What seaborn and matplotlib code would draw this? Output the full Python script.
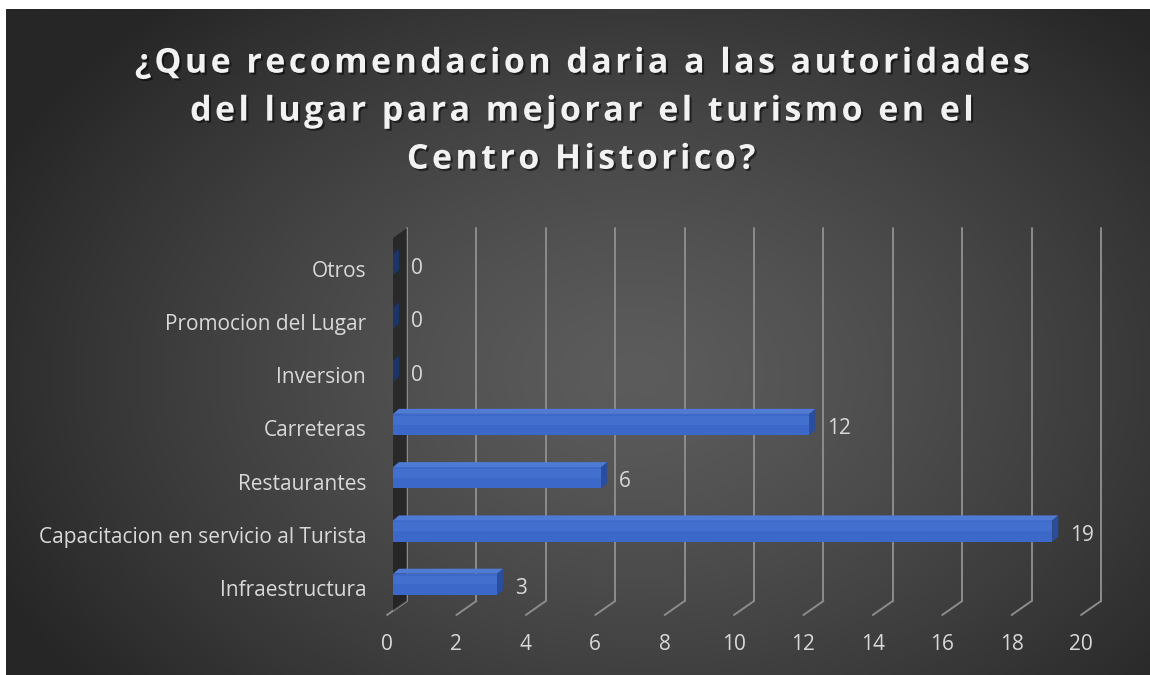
import numpy as np
import matplotlib
matplotlib.use("Agg")
import matplotlib.pyplot as plt
import matplotlib.patheffects as pe
from matplotlib.patches import Polygon
from matplotlib.lines import Line2D
from matplotlib.transforms import offset_copy, IdentityTransform
import seaborn as sns

# data, top row first
categories = ["Otros", "Promocion del Lugar", "Inversion", "Carreteras",
              "Restaurantes", "Capacitacion en servicio al Turista", "Infraestructura"]
values = [0, 0, 0, 12, 6, 19, 3]
x_ticks = list(range(0, 21, 2))
title_lines = ["¿Que recomendacion daria a las autoridades",
               "del lugar para mejorar el turismo en el",
               "Centro Historico?"]

sns.set_theme(style="white")
plt.rcParams["font.family"] = ["Open Sans", "DejaVu Sans"]

W, H, DPI = 1150, 675, 100
fig = plt.figure(figsize=(W / DPI, H / DPI), dpi=DPI)
fig.patch.set_facecolor("white")

# dark radial gradient background (white strip on left/top like the source)
bg = fig.add_axes([6 / W, 0, 1 - 6 / W, 1 - 9 / H])
gx, gy = np.meshgrid(np.linspace(0, 1, 400), np.linspace(0, 1, 240))
r = np.sqrt(((gx - 0.55) / 0.62) ** 2 + ((gy - 0.55) / 0.75) ** 2)
r = np.clip(r, 0, 1) ** 1.3
c0, c1 = np.array([0x5c, 0x5c, 0x5c]) / 255, np.array([0x26, 0x26, 0x26]) / 255
img = c0[None, None, :] + (c1 - c0)[None, None, :] * r[..., None]
bg.imshow(img, aspect="auto", extent=[0, 1, 0, 1], origin="upper")
bg.set_axis_off()

# front plane of the 3D box
ax = fig.add_axes([387 / W, 1 - 615 / H, 694 / W, 373 / H])
ax.patch.set_alpha(0)
sns.barplot(x=values, y=categories, orient="h", color="#3c69c9",
            width=0.4, saturation=1, linewidth=0, ax=ax, zorder=3)
ax.set_xlim(0, 20)
ax.set_ylim(len(categories) - 0.5, -0.5)
ax.set_xticks(x_ticks)
ax.set_xlabel("")
ax.set_ylabel("")
for s in ax.spines.values():
    s.set_visible(False)
ax.tick_params(axis="both", length=0, pad=14, labelsize=15, colors="#d9d9d9")
ax.tick_params(axis="y", pad=15)

bars = list(ax.containers[0])
back_tf = offset_copy(ax.transData, fig=fig, x=20, y=14, units="dots")
bar_tf = offset_copy(ax.transData, fig=fig, x=6, y=4, units="dots")
ybot, ytop = ax.get_ylim()
grid_c = "#8c8c8c"
ident = IdentityTransform()

# back wall gridlines + floor diagonals
for xt in x_ticks:
    ax.add_line(Line2D([xt, xt], [ybot, ytop], transform=back_tf,
                       color=grid_c, lw=1.4, clip_on=False, zorder=1))
    p_front = ax.transData.transform((xt, ybot))
    p_back = back_tf.transform((xt, ybot))
    ax.add_line(Line2D([p_front[0], p_back[0]], [p_front[1], p_back[1]],
                       transform=ident, color=grid_c, lw=1.4, clip_on=False, zorder=1))

# left wall shadow
wall = [bar_tf.transform((0, ybot)), bar_tf.transform((0, ytop)),
        back_tf.transform((0, ytop)), back_tf.transform((0, ybot))]
ax.add_artist(Polygon(wall, closed=True, transform=ident, clip_on=False,
                      facecolor="#121212", edgecolor="none", alpha=0.6, zorder=2))

# give the bars some depth
dx, dy = 6, 5
for bar in bars:
    bar.set_transform(bar_tf)
    bx, by, bw, bh = bar.get_x(), bar.get_y(), bar.get_width(), bar.get_height()
    (x0, y_a), (x1, y_b) = bar_tf.transform([(bx, by), (bx + bw, by + bh)])
    yl, yh = min(y_a, y_b), max(y_a, y_b)
    top = [(x0, yh), (x1, yh), (x1 + dx, yh + dy), (x0 + dx, yh + dy)]
    side = [(x1, yl), (x1, yh), (x1 + dx, yh + dy), (x1 + dx, yl + dy)]
    side_fc = "#1d3566" if bw == 0 else "#2a4e9c"
    ax.add_artist(Polygon(top, closed=True, transform=ident, clip_on=False,
                          facecolor="#4f7bd6", edgecolor="none", zorder=4))
    ax.add_artist(Polygon(side, closed=True, transform=ident, clip_on=False,
                          facecolor=side_fc, edgecolor="none", zorder=4))
    if bw > 0:
        # lighter upper half of the front face
        hl = [(x0, (yl + yh) / 2), (x1, (yl + yh) / 2), (x1, yh - 2), (x0, yh - 2)]
        ax.add_artist(Polygon(hl, closed=True, transform=ident, clip_on=False,
                              facecolor="#4a78d4", edgecolor="none", alpha=0.5, zorder=4))

ax.bar_label(ax.containers[0], labels=[str(v) for v in values], padding=17,
             color="#d9d9d9", fontsize=15)

# title with letter spacing (hair spaces between characters)
spaced = "\n".join("\u200a".join(line) for line in title_lines)
fig.text(0.505, 0.931, spaced, ha="center", va="top", color="#f2f2f2",
         fontsize=24.5, fontweight="bold", linespacing=1.54,
         path_effects=[pe.withSimplePatchShadow(offset=(1.5, -1.5),
                                                shadow_rgbFace="black", alpha=0.5)])

fig.savefig("out.png", dpi=DPI)
